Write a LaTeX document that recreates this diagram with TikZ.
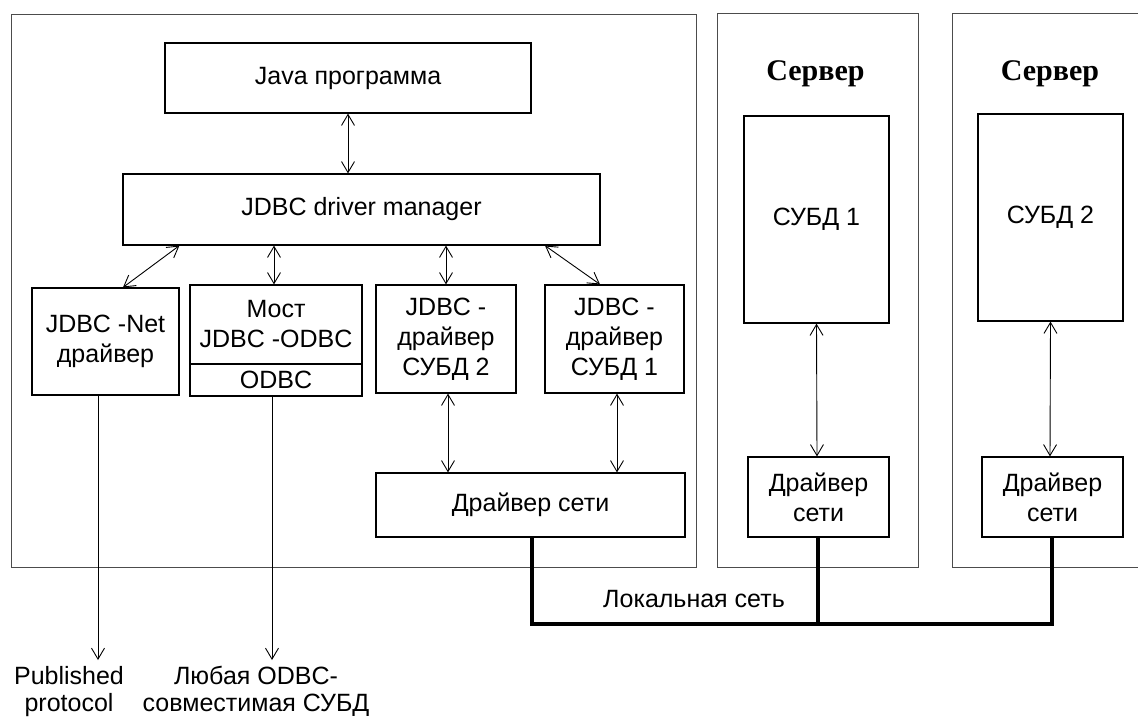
\documentclass[tikz,border=0pt]{standalone}
\usepackage{fontspec}
\setmainfont{Liberation Sans}
\newfontfamily\serverfont{Liberation Serif}
\usetikzlibrary{arrows.meta,calc}
\tikzset{
  box/.style={draw=black, line width=1.2pt, inner sep=0pt, align=center,
    font=\fontsize{25}{30}\selectfont},
  frame/.style={draw=black!70, line width=1pt, inner sep=0pt},
  lbl/.style={inner sep=0pt, align=center, font=\fontsize{25}{27}\selectfont},
  biarrow/.style={line width=0.9pt, {Straight Barb[length=11pt,width=13pt]}-{Straight Barb[length=11pt,width=13pt]}},
  downarrow/.style={line width=0.9pt, -{Straight Barb[length=11pt,width=13pt]}},
  bus/.style={line width=4pt},
  srvtitle/.style={inner sep=0pt, font=\serverfont\bfseries\fontsize{30}{32}\selectfont}
}
\begin{document}
\begin{tikzpicture}[x=1pt,y=-1pt]
\clip (0,0) rectangle (1138,717);
\fill[white] (0,0) rectangle (1138,717);
% frames
\node[frame, minimum width=685pt, minimum height=552pt] (client) at (353.5,291) {};
\node[frame, minimum width=201pt, minimum height=553pt] (srv1) at (817.5,290.5) {};
\node[frame, minimum width=220pt, minimum height=553pt] (srv2) at (1062,290.5) {};
\node[srvtitle] (t1) at (815.5,74) {Сервер};
\node[srvtitle] (t2) at (1050,74) {Сервер};
% client boxes
\node[box, minimum width=366pt, minimum height=70pt] (java) at (348,78) {Java программа};
\node[box, minimum width=477pt, minimum height=71pt] (mgr) at (361.5,209.5) {JDBC driver manager};
\node[box, minimum width=147pt, minimum height=107pt] (jnet) at (105.5,341.5) {JDBC -Net\\драйвер};
\node[box, minimum width=172pt, minimum height=79pt] (mosta) at (276,324.5) {Мост\\JDBC -ODBC};
\node[box, minimum width=172pt, minimum height=32pt] (mostb) at (276,380) {ODBC};
\node[box, minimum width=140pt, minimum height=108pt] (d2) at (446,339) {JDBC -\\драйвер\\СУБД 2};
\node[box, minimum width=139pt, minimum height=108pt] (d1) at (614.5,339) {JDBC -\\драйвер\\СУБД 1};
\node[box, minimum width=309pt, minimum height=64pt] (ndrv) at (530.5,505) {Драйвер сети};
% server boxes
\node[box, minimum width=145pt, minimum height=207pt] (s1) at (816.5,219.5) {СУБД 1};
\node[box, minimum width=145pt, minimum height=207pt] (s2) at (1050.5,217.5) {СУБД 2};
\node[box, minimum width=141pt, minimum height=80pt] (sd1) at (818.5,497) {Драйвер\\сети};
\node[box, minimum width=141pt, minimum height=80pt] (sd2) at (1052.5,497) {Драйвер\\сети};
% arrows
\draw[biarrow] (java.south) -- (java.south |- mgr.north);
\draw[biarrow] ([xshift=57pt]mgr.south west) -- ([xshift=17.5pt]jnet.north);
\draw[biarrow] ([xshift=-87.5pt]mgr.south) -- ([xshift=-2pt]mosta.north);
\draw[biarrow] ([xshift=84.5pt]mgr.south) -- (d2.north);
\draw[biarrow] ([xshift=183.5pt]mgr.south) -- ([xshift=-14.5pt]d1.north);
\draw[biarrow] ([xshift=2pt]d2.south) -- ([xshift=-82.5pt]ndrv.north);
\draw[biarrow] ([xshift=2.5pt]d1.south) -- ([xshift=86.5pt]ndrv.north);
\draw[biarrow] (s1.south) -- ([xshift=-1.5pt]sd1.north);
\draw[biarrow] (s2.south) -- ([xshift=-2.5pt]sd2.north);
% outputs
\coordinate (pe) at (98,660);
\coordinate (oe) at (272,660);
\draw[downarrow] ([xshift=-7.5pt]jnet.south) -- (pe);
\draw[downarrow] ([xshift=-4pt]mostb.south) -- (oe);
\node[lbl, anchor=north] (pub) at (69,666) {Published\\protocol};
\node[lbl, anchor=north] (anyodbc) at (256,666) {Любая ODBC-\\совместимая СУБД};
% network bus
\draw[bus] ([xshift=1pt]ndrv.south) -- ++(0,86) coordinate (b1) -| ([xshift=-0.5pt]sd2.south);
\draw[bus] ([xshift=-1pt]sd1.south) -- ([xshift=-1pt]sd1.south |- b1);
\node[lbl] (lan) at (694,599) {Локальная сеть};
\end{tikzpicture}
\end{document}
